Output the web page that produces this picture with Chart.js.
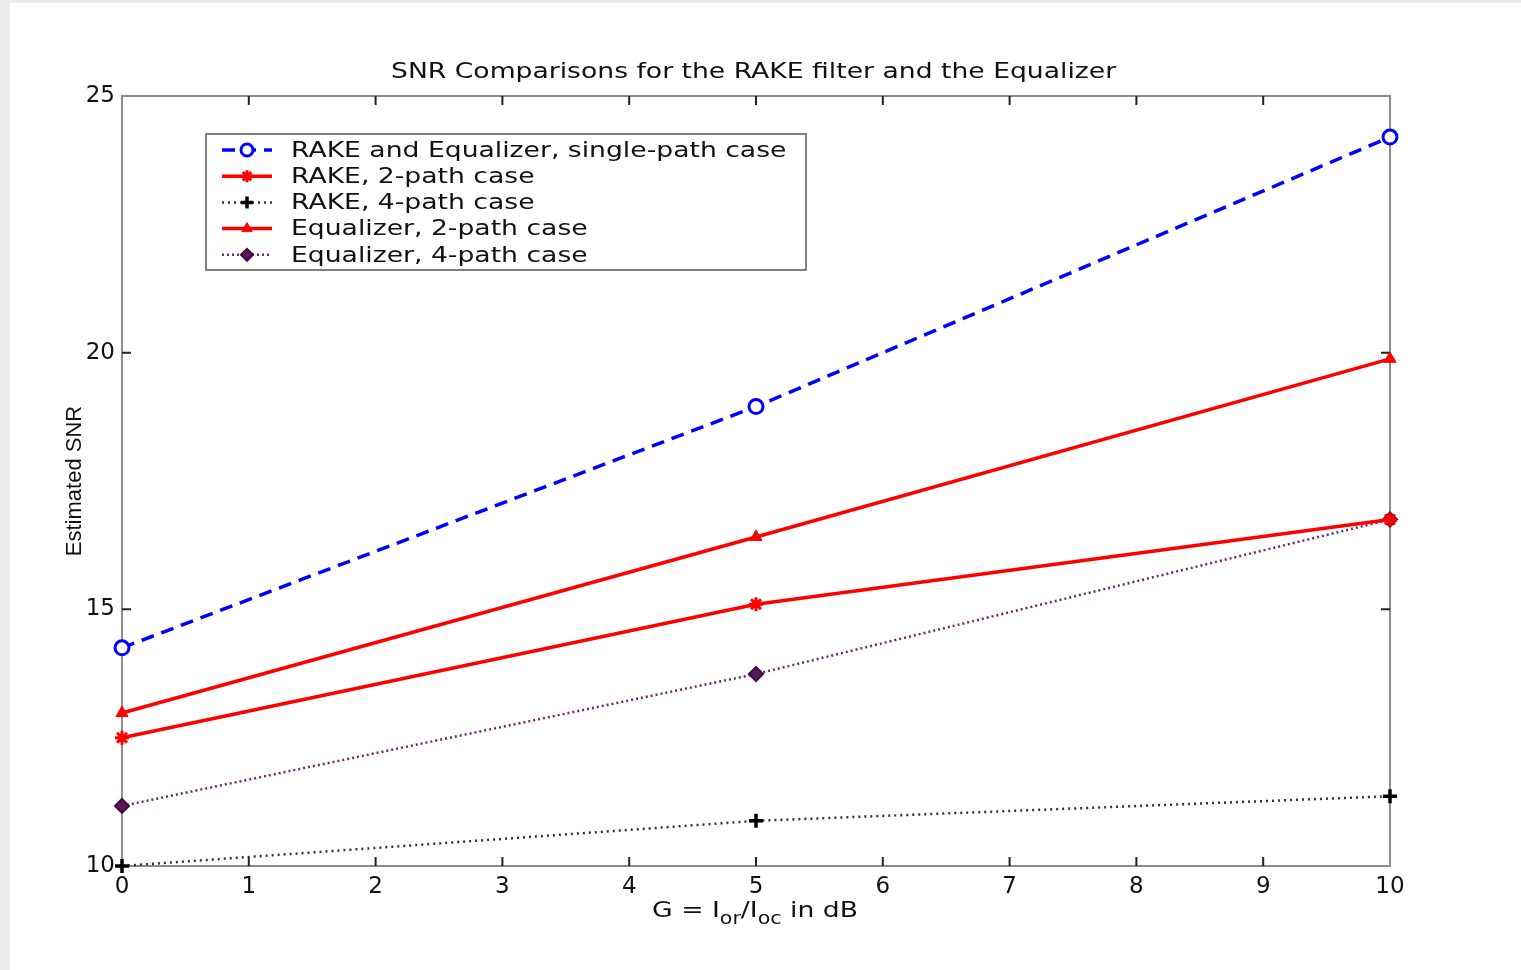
<!DOCTYPE html>
<html>
<head>
<meta charset="utf-8">
<script src="https://cdn.jsdelivr.net/npm/chart.js@4/dist/chart.umd.min.js"></script>
<style>
  html, body { margin: 0; padding: 0; background: #ececec; }
  #wrap { position: absolute; left: 0; top: 0; width: 1521px; height: 970px; }
</style>
</head>
<body>
<div id="wrap"><canvas id="snrChart" width="1521" height="970"></canvas></div>
<script>
// nilai sumbu x (G dalam dB)
const xValues = [0, 5, 10];

// nilai SNR per kurva
const rakeEqSingle = [14.25, 18.95, 24.2];
const rake2Path = [12.5, 15.1, 16.75];
const rake4Path = [10.0, 10.88, 11.36];
const eq2Path = [12.98, 16.41, 19.88];
const eq4Path = [11.17, 13.74, 16.75];

const seriesLabels = [
  "RAKE and Equalizer, single-path case",
  "RAKE, 2-path case",
  "RAKE, 4-path case",
  "Equalizer, 2-path case",
  "Equalizer, 4-path case"
];

const xTicks = [0, 1, 2, 3, 4, 5, 6, 7, 8, 9, 10];
const yTicks = [10, 15, 20, 25];

const chartTitle = "SNR Comparisons for the RAKE filter and the Equalizer";
const yTitle = "Estimated SNR";

// teks di gambar asli agak melebar ke samping
const stretchX = 1.21;

function toPoints(values) {
  return xValues.map((x, i) => ({ x: x, y: values[i] }));
}

// tulis teks yang dilebarkan secara horizontal, x = posisi kiri
function fillWide(ctx, text, x, y) {
  ctx.save();
  ctx.translate(x, y);
  ctx.scale(stretchX, 1);
  ctx.textAlign = "left";
  ctx.fillText(text, 0, 0);
  ctx.restore();
  return ctx.measureText(text).width * stretchX;
}

// background abu-abu tipis di pinggir + kotak putih
const pagePlugin = {
  id: "page",
  beforeDraw(chart) {
    var ctx = chart.ctx;
    ctx.save();
    ctx.fillStyle = "#ececec";
    ctx.fillRect(0, 0, chart.width, chart.height);
    ctx.fillStyle = "#ffffff";
    ctx.fillRect(10, 3, chart.width - 10, chart.height - 3);
    ctx.restore();
  }
};

// kotak sumbu + tick ke dalam (gaya matlab)
const boxPlugin = {
  id: "box",
  beforeDatasetsDraw(chart) {
    var ctx = chart.ctx;
    var a = chart.chartArea;
    var xs = chart.scales.x;
    var ys = chart.scales.y;
    ctx.save();
    ctx.strokeStyle = "#8c8c8c";
    ctx.lineWidth = 2;
    ctx.strokeRect(a.left, a.top, a.right - a.left, a.bottom - a.top);

    ctx.strokeStyle = "#222222";
    ctx.lineWidth = 2;
    xTicks.slice(1, -1).forEach(function (t) {
      var px = xs.getPixelForValue(t);
      ctx.beginPath();
      ctx.moveTo(px, a.bottom);
      ctx.lineTo(px, a.bottom - 9);
      ctx.moveTo(px, a.top);
      ctx.lineTo(px, a.top + 9);
      ctx.stroke();
    });
    yTicks.slice(1, -1).forEach(function (t) {
      var py = ys.getPixelForValue(t);
      ctx.beginPath();
      ctx.moveTo(a.left, py);
      ctx.lineTo(a.left + 9, py);
      ctx.moveTo(a.right, py);
      ctx.lineTo(a.right - 9, py);
      ctx.stroke();
    });
    ctx.restore();
  }
};

// judul, label sumbu (dengan subscript) dan legend di dalam plot
const textPlugin = {
  id: "texts",
  afterDraw(chart) {
    var ctx = chart.ctx;
    var a = chart.chartArea;
    var cx = (a.left + a.right) / 2;
    ctx.save();
    ctx.fillStyle = "#111111";
    ctx.textBaseline = "middle";

    // judul
    ctx.font = "22px 'DejaVu Sans'";
    var tw = ctx.measureText(chartTitle).width * stretchX;
    fillWide(ctx, chartTitle, 391, 72);

    // judul sumbu y
    ctx.save();
    ctx.translate(75, (a.top + a.bottom) / 2);
    ctx.rotate(-Math.PI / 2);
    ctx.font = "22px 'Liberation Sans'";
    ctx.textAlign = "center";
    ctx.fillText(yTitle, 0, 0);
    ctx.restore();

    // judul sumbu x: G = I_or/I_oc in dB
    var parts = [
      { t: "G = I", sub: false },
      { t: "or", sub: true },
      { t: "/I", sub: false },
      { t: "oc", sub: true },
      { t: " in dB", sub: false }
    ];
    var mainFont = "22px 'DejaVu Sans'";
    var subFont = "17px 'DejaVu Sans'";
    var total = 0;
    parts.forEach(function (p) {
      ctx.font = p.sub ? subFont : mainFont;
      p.w = ctx.measureText(p.t).width * stretchX;
      total += p.w;
    });
    var px = 755 - total / 2;
    parts.forEach(function (p) {
      ctx.font = p.sub ? subFont : mainFont;
      fillWide(ctx, p.t, px, p.sub ? 920 : 911);
      px += p.w;
    });

    // legend
    var lx = 206, ly = 134, lw = 600, lh = 136;
    ctx.fillStyle = "#ffffff";
    ctx.fillRect(lx, ly, lw, lh);
    ctx.strokeStyle = "#555555";
    ctx.lineWidth = 1.5;
    ctx.strokeRect(lx, ly, lw, lh);
    chart.data.datasets.forEach(function (ds, i) {
      var rowY = 150 + i * 26.2;
      ctx.save();
      ctx.strokeStyle = ds.borderColor;
      ctx.lineWidth = ds.borderWidth;
      ctx.setLineDash(ds.borderDash || []);
      ctx.beginPath();
      ctx.moveTo(222, rowY);
      ctx.lineTo(272, rowY);
      ctx.stroke();
      ctx.setLineDash([]);
      ctx.strokeStyle = ds.pointBorderColor;
      ctx.fillStyle = ds.pointBackgroundColor;
      ctx.lineWidth = ds.pointBorderWidth;
      Chart.helpers.drawPoint(ctx, {
        pointStyle: ds.pointStyle,
        rotation: 0,
        radius: ds.pointRadius - 1,
        borderWidth: ds.pointBorderWidth
      }, 247, rowY);
      ctx.restore();
      ctx.fillStyle = "#111111";
      ctx.font = "22px 'DejaVu Sans'";
      ctx.textBaseline = "middle";
      fillWide(ctx, ds.label, 291, rowY + 1);
    });
    ctx.restore();
  }
};

var ctxSnr = document.getElementById("snrChart").getContext("2d");

var snrChart = new Chart(ctxSnr, {
  type: "line",
  data: {
    datasets: [
      {
        label: seriesLabels[0],
        data: toPoints(rakeEqSingle),
        borderColor: "#0000ff",
        borderWidth: 3.5,
        borderDash: [13, 8],
        pointStyle: "circle",
        pointRadius: 7,
        pointBorderWidth: 3,
        pointBorderColor: "#0000ff",
        pointBackgroundColor: "#ffffff"
      },
      {
        label: seriesLabels[1],
        data: toPoints(rake2Path),
        borderColor: "#ff0000",
        borderWidth: 3.5,
        pointStyle: "star",
        pointRadius: 7,
        pointBorderWidth: 3,
        pointBorderColor: "#ff0000",
        pointBackgroundColor: "#ff0000"
      },
      {
        label: seriesLabels[2],
        data: toPoints(rake4Path),
        borderColor: "#333333",
        borderWidth: 2.5,
        borderDash: [2, 4],
        pointStyle: "cross",
        pointRadius: 7,
        pointBorderWidth: 3.5,
        pointBorderColor: "#000000",
        pointBackgroundColor: "#000000"
      },
      {
        label: seriesLabels[3],
        data: toPoints(eq2Path),
        borderColor: "#ff0000",
        borderWidth: 3.5,
        pointStyle: "triangle",
        pointRadius: 7,
        pointBorderWidth: 1,
        pointBorderColor: "#ff0000",
        pointBackgroundColor: "#ff0000"
      },
      {
        label: seriesLabels[4],
        data: toPoints(eq4Path),
        borderColor: "#6a2a6a",
        borderWidth: 2.5,
        borderDash: [2, 3],
        pointStyle: "rectRot",
        pointRadius: 7,
        pointBorderWidth: 2,
        pointBorderColor: "#3f0a3f",
        pointBackgroundColor: "#5a1a5a"
      }
    ]
  },
  options: {
    responsive: false,
    animation: false,
    clip: false,
    layout: {
      padding: { left: 10, right: 131, top: 96, bottom: 74 }
    },
    plugins: {
      legend: { display: false },
      title: { display: false },
      tooltip: { enabled: false }
    },
    elements: {
      line: { tension: 0 }
    },
    scales: {
      x: {
        type: "linear",
        min: 0,
        max: 10,
        afterFit(scale) { scale.height = 30; },
        afterBuildTicks(scale) { scale.ticks = xTicks.map(v => ({ value: v })); },
        grid: { display: false, drawTicks: false },
        border: { display: false },
        ticks: {
          color: "#111111",
          padding: 7,
          font: { family: "'DejaVu Sans'", size: 23 }
        }
      },
      y: {
        type: "linear",
        min: 10,
        max: 25,
        afterFit(scale) { scale.width = 112; },
        afterBuildTicks(scale) { scale.ticks = yTicks.map(v => ({ value: v })); },
        grid: { display: false, drawTicks: false },
        border: { display: false },
        ticks: {
          color: "#111111",
          padding: 7,
          font: { family: "'DejaVu Sans'", size: 23 }
        }
      }
    }
  },
  plugins: [pagePlugin, boxPlugin, textPlugin]
});
</script>
</body>
</html>
